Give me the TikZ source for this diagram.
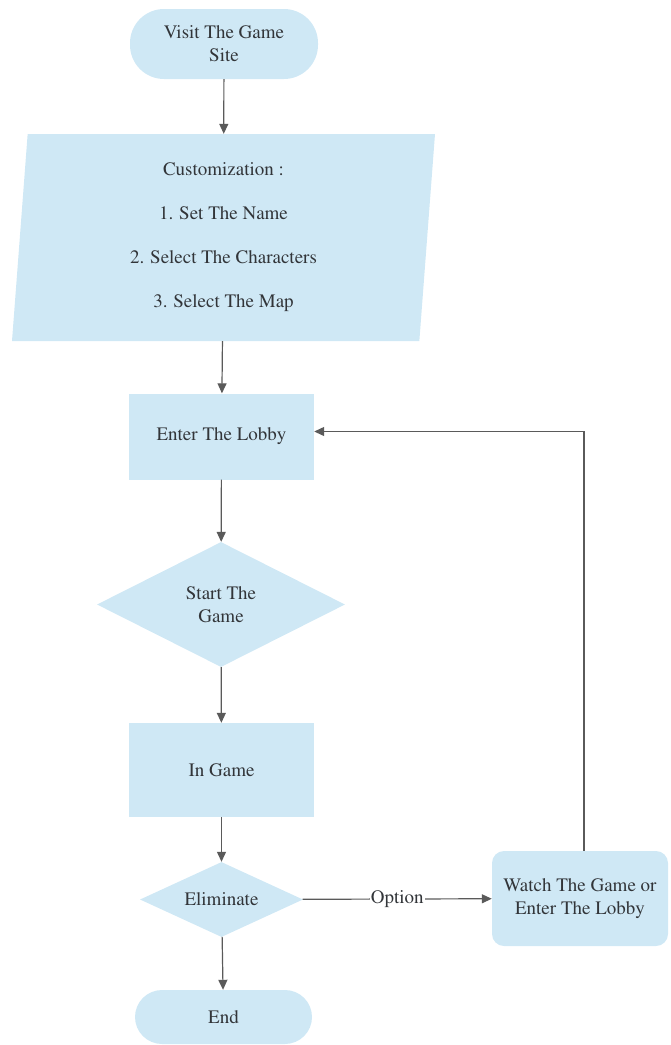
\documentclass[tikz,border=0pt]{standalone}
\usepackage[T1]{fontenc}
\usepackage{times}
\usetikzlibrary{arrows.meta,shapes,calc}
\definecolor{boxfill}{RGB}{207,232,245}
\definecolor{boxtext}{RGB}{50,53,57}
\definecolor{linegray}{RGB}{90,90,90}

\begin{document}
\begin{tikzpicture}[>={Triangle[length=10pt,width=9pt]},x=1pt,y=-1pt]
 \tikzstyle{every node}=[text=boxtext,font=\rmfamily\fontsize{19}{23}\selectfont]
 \tikzstyle{flowbox}=[fill=boxfill,inner sep=0pt,align=center]
 \tikzstyle{terminal}=[flowbox,rectangle,rounded corners=27pt]
 \tikzstyle{process}=[flowbox,rectangle,minimum width=185pt,minimum height=86pt]
 \tikzstyle{decision}=[flowbox,diamond,aspect=2]
 \tikzstyle{flow}=[->,draw=linegray,line width=1.2pt]
 \useasboundingbox (0,0) rectangle (670,1045);

 \node (visit) at (224,44) [terminal,minimum width=188pt,minimum height=70pt,rounded corners=34pt] {Visit The Game\\Site};
 \node (custom) at (223.5,237.5) [flowbox,trapezium,trapezium left angle=84,trapezium right angle=96,
 	trapezium stretches body,minimum width=423pt,minimum height=207pt,
 	font=\rmfamily\fontsize{19}{44}\selectfont] {Customization :\\1. Set The Name\\2. Select The Characters\\3. Select The Map};
 \node (lobby) at (221.5,436.5) [process] {Enter The Lobby};
 \node (start) at (221,604.5) [decision,minimum width=248pt,minimum height=125pt] {Start The\\Game};
 \node (ingame) at (221.5,770) [process,minimum height=94pt] {In Game};
 \node (elim) at (221.5,899.5) [decision,minimum width=163pt,minimum height=75pt] {Eliminate};
 \node (stop) at (223.5,1017) [terminal,minimum width=177pt,minimum height=54pt] {End};
 \node (watch) at (580,898.5) [flowbox,rectangle,rounded corners=12pt,minimum width=176pt,minimum height=95pt] {Watch The Game or\\Enter The Lobby};

 \draw [flow] (visit) -- (custom);
 \draw [flow] (custom) -- (lobby);
 \draw [flow] (lobby) -- (start);
 \draw [flow] (start) -- (ingame);
 \draw [flow] (ingame) -- (elim);
 \draw [flow] (elim) -- (stop);
 \draw [flow] (elim) -- node[fill=white,inner sep=1pt] {Option} (watch);
 \draw [flow] ([xshift=4pt]watch.north) |- ([yshift=5pt]lobby.east);

\end{tikzpicture}
\end{document}
